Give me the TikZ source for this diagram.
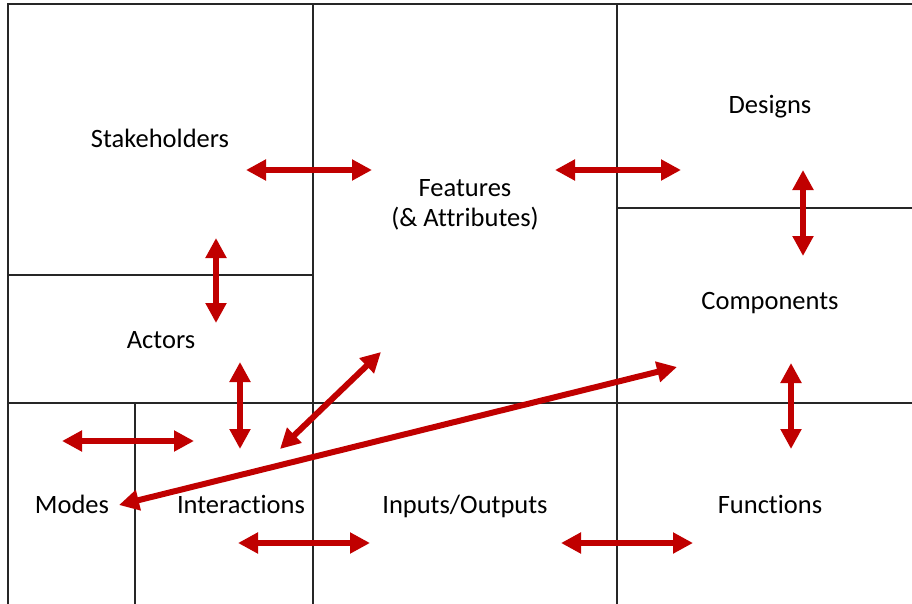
\documentclass[tikz,border=0pt]{standalone}
\usepackage{fontspec}
\setmainfont{Carlito}[Ligatures=NoCommon]
\usetikzlibrary{arrows.meta}
\definecolor{arrowred}{HTML}{C00000}
\definecolor{gridline}{HTML}{262626}
\tikzset{
  grid/.style={draw=gridline, line width=1.1pt},
  label/.style={font=\fontsize{26.5}{30}\selectfont, align=center, inner sep=0pt},
  link/.style={draw=arrowred, line width=6pt, {Triangle[length=20pt,width=20pt]}-{Triangle[length=20pt,width=20pt]}}
}
\begin{document}
\begin{tikzpicture}[x=1pt,y=-1pt]
\useasboundingbox (0,0) rectangle (912,604);
% grid lines
\draw[grid] (8,604) -- (8,4) -- (912,4);
\draw[grid] (313,4) -- (313,604);
\draw[grid] (617,4) -- (617,604);
\draw[grid] (8,275) -- (313,275);
\draw[grid] (617,208) -- (912,208);
\draw[grid] (8,403) -- (912,403);
\draw[grid] (135,403) -- (135,604);
% labels
\node[label, anchor=base] (stake) at (160,148) {Stakeholders};
\node[label] (feat) at (465,205) {Features\\(\& Attributes)};
\node[label, anchor=base] (designs) at (770,114) {Designs};
\node[label, anchor=base] (comp) at (770,309) {Components};
\node[label, anchor=base] (actors) at (161,348) {Actors};
\node[label, anchor=base] (modes) at (72,513) {Modes};
\node[label, anchor=base] (inter) at (241,513) {Interactions};
\node[label, anchor=base] (io) at (465,513) {Inputs/Outputs};
\node[label, anchor=base] (func) at (770,513) {Functions};
% arrow end points
\coordinate (sf1) at (246,170); \coordinate (sf2) at (372,170);
\coordinate (fd1) at (555,170); \coordinate (fd2) at (681,170);
\coordinate (dc1) at (803,170); \coordinate (dc2) at (803,256);
\coordinate (cf1) at (791,363); \coordinate (cf2) at (791,449);
\coordinate (sa1) at (216,238); \coordinate (sa2) at (216,323);
\coordinate (ai1) at (240,362); \coordinate (ai2) at (240,449);
\coordinate (mi1) at (62,441); \coordinate (mi2) at (194,441);
\coordinate (fi1) at (381,352); \coordinate (fi2) at (280,449);
\coordinate (mc1) at (119,505); \coordinate (mc2) at (677,367);
\coordinate (ii1) at (238,543); \coordinate (ii2) at (370,543);
\coordinate (of1) at (561,543); \coordinate (of2) at (693,543);
% arrows
\draw[link] (sf1) -- (sf2);
\draw[link] (fd1) -- (fd2);
\draw[link] (dc1) -- (dc2);
\draw[link] (cf1) -- (cf2);
\draw[link] (sa1) -- (sa2);
\draw[link] (ai1) -- (ai2);
\draw[link] (mi1) -- (mi2);
\draw[link] (fi1) -- (fi2);
\draw[link] (mc1) -- (mc2);
\draw[link] (ii1) -- (ii2);
\draw[link] (of1) -- (of2);
\end{tikzpicture}
\end{document}
